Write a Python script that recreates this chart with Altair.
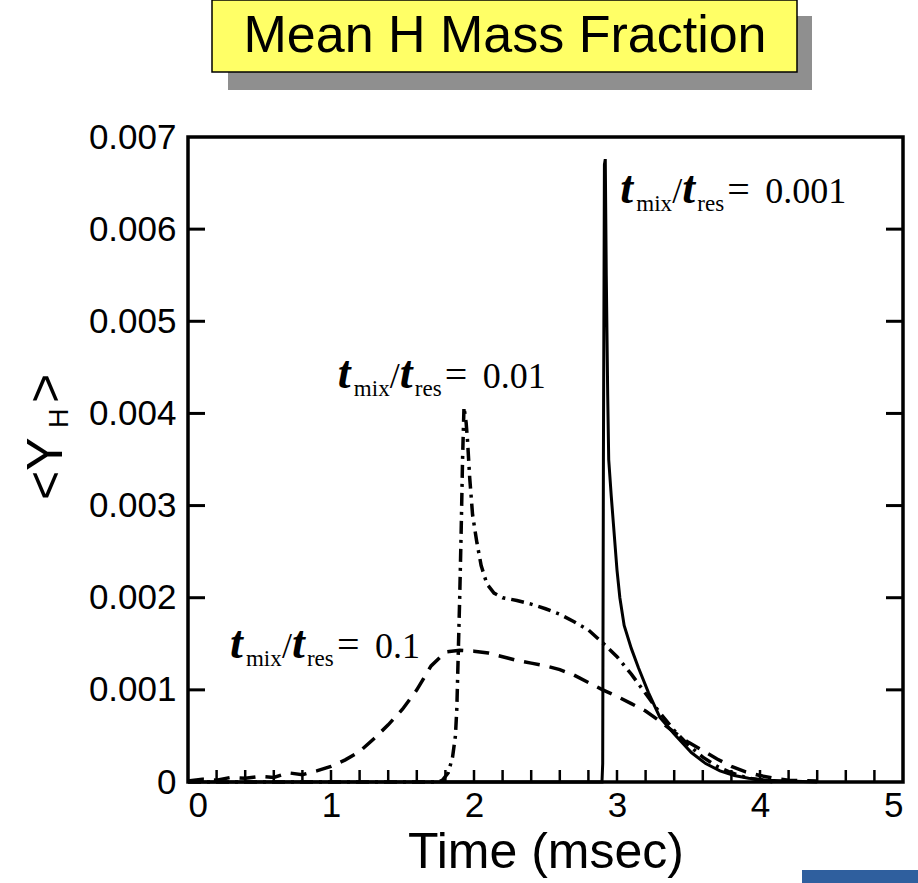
import altair as alt
import pandas as pd

# ---------------- data ----------------
# t_mix/t_res = 0.001 (solid)
time_001 = [0.0, 1.0, 2.0, 2.5, 2.85, 2.895, 2.90, 2.905, 2.912, 2.918, 2.925, 2.935, 2.942,
            2.96, 2.975, 3.0, 3.02, 3.05, 3.1, 3.15, 3.22, 3.3, 3.4, 3.52, 3.62, 3.72, 3.82,
            3.92, 4.05, 4.2, 4.4]
yh_001 = [0.0, 0.0, 0.0, 0.0, 0.0, 0.0, 0.0002, 0.0035, 0.0067, 0.00676, 0.0055, 0.0042, 0.0035,
          0.0031, 0.0028, 0.0023, 0.0020, 0.0017, 0.00145, 0.00124, 0.00097, 0.00070, 0.00052,
          0.00032, 0.0002, 0.00012, 0.00007, 0.00004, 0.00002, 0.00001, 0.0]

# t_mix/t_res = 0.01 (dash-dot)
time_01 = [0.0, 1.0, 1.75, 1.78, 1.82, 1.85, 1.87, 1.88, 1.89, 1.90, 1.91, 1.92, 1.93, 1.945,
           1.955, 1.97, 1.99, 2.02, 2.05, 2.09, 2.14, 2.2, 2.3, 2.4, 2.5, 2.6, 2.7, 2.8, 2.9,
           3.0, 3.1, 3.2, 3.3, 3.4, 3.5, 3.6, 3.7, 3.8, 3.9, 4.0, 4.1]
yh_01 = [0.0, 0.0, 0.0, 0.00002, 0.0001, 0.00027, 0.0005, 0.0008, 0.0014, 0.0020, 0.0027, 0.0035,
         0.00407, 0.0039, 0.0037, 0.0033, 0.0029, 0.0026, 0.00235, 0.00215, 0.00205, 0.0020,
         0.00197, 0.00193, 0.00188, 0.00182, 0.00174, 0.00165, 0.00151, 0.00136, 0.00117,
         0.00096, 0.00075, 0.00056, 0.0004, 0.00027, 0.00017, 0.0001, 0.00005, 0.00002, 0.0]

# t_mix/t_res = 0.1 (dashed)
time_1 = [0.0, 0.1, 0.2, 0.3, 0.4, 0.5, 0.6, 0.7, 0.8, 0.9, 1.0, 1.1, 1.2, 1.3, 1.4, 1.5, 1.6,
          1.7, 1.8, 1.9, 2.0, 2.1, 2.2, 2.3, 2.4, 2.5, 2.6, 2.7, 2.8, 2.9, 3.0, 3.1, 3.2, 3.3,
          3.4, 3.5, 3.6, 3.7, 3.8, 3.9, 4.0, 4.1, 4.2, 4.4]
yh_1 = [0.00001, 0.00003, 0.00002, 0.00005, 0.00004, 0.00006, 0.00005, 0.0001, 0.00008, 0.00012,
        0.00017, 0.00024, 0.00033, 0.00047, 0.00062, 0.00079, 0.001, 0.00126, 0.00141, 0.00143,
        0.00142, 0.0014, 0.00136, 0.00132, 0.00129, 0.00126, 0.00122, 0.00116, 0.00108, 0.001,
        0.00093, 0.00085, 0.00077, 0.00066, 0.00054, 0.00043, 0.00034, 0.00025, 0.00017,
        0.00011, 0.00007, 0.00004, 0.00002, 0.00001]

# annotation anchors (data units) and values
ann_time = [3.03, 1.055, 0.30]
ann_yh = [0.00628, 0.004276, 0.001346]
ann_val = ["0.001", "0.01", "0.1"]

# tick positions / labels
x_labels = [0, 1, 2, 3, 4, 5]
x_minor = [0.2, 0.4, 0.6, 0.8, 1.0, 1.2, 1.4, 1.6, 1.8, 2.0, 2.2, 2.4, 2.6, 2.8, 3.0, 3.2,
           3.4, 3.6, 3.8, 4.0, 4.2, 4.4, 4.6, 4.8]
y_labels = [0, 0.001, 0.002, 0.003, 0.004, 0.005, 0.006, 0.007]
y_major = [0.001, 0.002, 0.003, 0.004, 0.005, 0.006]

title_text = "Mean H Mass Fraction"
x_title = "Time (msec)"

# ---------------- layout ----------------
W, H = 715, 645
PAD_L, PAD_T = 188, 137
PAD_R = 918 - PAD_L - W
PAD_B = 883 - PAD_T - H

serif = "Liberation Serif"
sans = "Liberation Sans"

xs = alt.Scale(domain=[0, 5], nice=False, zero=False)
ys = alt.Scale(domain=[0, 0.007], nice=False)
xaxis = alt.Axis(values=x_labels, title=x_title, labelFont=sans, labelFontSize=35,
                 labelColor="black", labelPadding=6, titleFont=sans, titleFontSize=50,
                 titleFontWeight="normal", titleColor="black", titlePadding=4, format="d")
yaxis = alt.Axis(values=y_labels, title=None, labelFont=sans, labelFontSize=35,
                 labelColor="black", labelPadding=12,
                 labelExpr="datum.value == 0 ? '0' : format(datum.value, '.3f')")


def X(field="t"):
    return alt.X(f"{field}:Q", scale=xs, axis=xaxis)


def Y(field="v"):
    return alt.Y(f"{field}:Q", scale=ys, axis=yaxis)


d001 = pd.DataFrame({"t": time_001, "v": yh_001})
d01 = pd.DataFrame({"t": time_01, "v": yh_01})
d1 = pd.DataFrame({"t": time_1, "v": yh_1})

solid = alt.Chart(d001).mark_line(color="black", strokeWidth=3).encode(
    x=X(), y=Y(), order="t:Q")
dashdot = alt.Chart(d01).mark_line(color="black", strokeWidth=3.5, strokeDash=[13, 6, 3, 6]).encode(
    x=X(), y=Y(), order="t:Q")
dashed = alt.Chart(d1).mark_line(color="black", strokeWidth=3.5, strokeDash=[16, 10]).encode(
    x=X(), y=Y(), order="t:Q")

# inward ticks
bt = alt.Chart(pd.DataFrame({"t": x_minor})).mark_rule(color="black", strokeWidth=2.5).encode(
    x=X(), y=alt.value(H), y2=alt.value(H - 12))
ytk = pd.DataFrame({"v": y_major})
lt = alt.Chart(ytk).mark_rule(color="black", strokeWidth=3).encode(
    y=Y(), x=alt.value(0), x2=alt.value(17))
rt = alt.Chart(ytk).mark_rule(color="black", strokeWidth=3).encode(
    y=Y(), x=alt.value(W - 17), x2=alt.value(W))

# annotations t_mix / t_res = value
ann = pd.DataFrame({"t": ann_time, "v": ann_yh, "val": ann_val})


def piece(text, dx, dy, size, style="normal", weight="normal", field=False):
    kw = dict(align="left", baseline="alphabetic", font=serif, fontSize=size, fontStyle=style,
              fontWeight=weight, color="black", dx=dx, dy=dy)
    if not field:
        kw["text"] = text
    m = alt.Chart(ann).mark_text(**kw)
    enc = dict(x=X(), y=Y())
    if field:
        enc["text"] = alt.Text("val:N")
    return m.encode(**enc)


ann_layers = [
    piece("t", -1, 0, 46, "italic", "bold"),
    piece("mix", 15, 8, 23),
    piece("/", 51, 0, 36),
    piece("t", 61, 0, 46, "italic", "bold"),
    piece("res", 76, 8, 23),
    piece("=", 106, 0, 40),
    piece("", 144, 0, 36, field=True),
]

# title box with shadow
one = pd.DataFrame({"k": [0]})
shadow = alt.Chart(one).mark_rect(color="#8f8f8f").encode(
    x=alt.value(40), x2=alt.value(624), y=alt.value(-121), y2=alt.value(-47))
box = alt.Chart(one).mark_rect(fill="#ffff66", stroke="black", strokeWidth=1.5).encode(
    x=alt.value(24), x2=alt.value(609), y=alt.value(-137), y2=alt.value(-65))
ttl = alt.Chart(one).mark_text(text=title_text, font=sans, fontSize=52, color="black",
                               align="center", baseline="alphabetic").encode(
    x=alt.value(317), y=alt.value(-85))

# y-axis title  <Y_H>
yt1 = alt.Chart(one).mark_text(text="<Y", font=sans, fontSize=50, angle=270, align="left",
                               baseline="alphabetic", color="black").encode(
    x=alt.value(-126), y=alt.value(363))
yt2 = alt.Chart(one).mark_text(text="H", font=sans, fontSize=27, angle=270, align="left",
                               baseline="alphabetic", color="black").encode(
    x=alt.value(-120), y=alt.value(291))
yt3 = alt.Chart(one).mark_text(text=">", font=sans, fontSize=50, angle=270, align="left",
                               baseline="alphabetic", color="black").encode(
    x=alt.value(-126), y=alt.value(266))

# partial logo at bottom right
logo = alt.Chart(one).mark_rect(color="#2f5f9e").encode(
    x=alt.value(614), x2=alt.value(730), y=alt.value(733), y2=alt.value(746))

chart = alt.layer(
    solid, dashdot, dashed, bt, lt, rt, *ann_layers,
    shadow, box, ttl, yt1, yt2, yt3, logo,
).properties(
    width=W, height=H,
    autosize=alt.AutoSizeParams(type="none"),
    padding={"left": PAD_L, "top": PAD_T, "right": PAD_R, "bottom": PAD_B},
    background="white",
).configure_view(
    stroke="black", strokeWidth=3.5
).configure_axis(
    grid=False, domain=False, ticks=False
)

chart.save("out.html", embed_options={"renderer": "svg", "actions": False})
